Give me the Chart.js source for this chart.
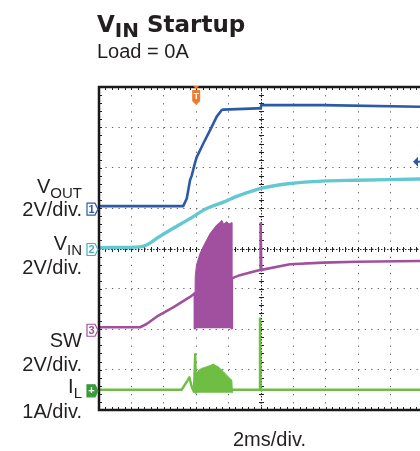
<!DOCTYPE html>
<html>
<head>
<meta charset="utf-8">
<title>VIN Startup</title>
<script src="https://cdn.jsdelivr.net/npm/chart.js@4.4.1/dist/chart.umd.min.js"></script>
<style>
  html, body { margin: 0; padding: 0; background: #fff; }
  #wrap { position: relative; width: 420px; height: 451px; overflow: hidden; font-family: "Liberation Sans", Arial, sans-serif; color: #231f20; }
  #scope { position: absolute; left: 0; top: 0; }
  .title { position: absolute; left: 97px; top: 13px; font: bold 23px/23px "DejaVu Sans", sans-serif; white-space: nowrap; }
  .title sub { font-size: 20px; vertical-align: -5px; line-height: 0; }
  .load { position: absolute; left: 97px; top: 41px; font-size: 20px; line-height: 20px; }
  .lbl { position: absolute; right: 338px; font-size: 20px; line-height: 20px; text-align: right; white-space: nowrap; }
  .lbl sub { font-size: 15px; vertical-align: -5px; line-height: 0; }
  .xlbl { position: absolute; left: 233px; top: 429px; font-size: 20px; line-height: 20px; }
</style>
</head>
<body>
<div id="wrap">
  <canvas id="scope" width="420" height="451"></canvas>
  <div class="title">V<sub>IN</sub> Startup</div>
  <div class="load">Load = 0A</div>
  <div class="lbl" style="top:176px">V<sub>OUT</sub></div>
  <div class="lbl" style="top:199px">2V/div.</div>
  <div class="lbl" style="top:233px">V<sub>IN</sub></div>
  <div class="lbl" style="top:257px">2V/div.</div>
  <div class="lbl" style="top:330px">SW</div>
  <div class="lbl" style="top:354px">2V/div.</div>
  <div class="lbl" style="top:376px">I<sub>L</sub></div>
  <div class="lbl" style="top:401px">1A/div.</div>
  <div class="xlbl">2ms/div.</div>
</div>
<script>
// scope settings: 2 ms/div, 10 x 8 divisions, ground markers in divisions from the bottom
const msPerDiv = 2;
const voutOffset = 5, vinOffset = 4, swOffset = 2, ilOffset = 0.5;
const voutPerDiv = 2, vinPerDiv = 2, swPerDiv = 2, ilPerDiv = 1;
const trigTime = 6;     // ms
const trigLevel = 2.3;  // V on VOUT

// VOUT (V)
const voutT = [0, 5.2, 5.42, 5.62, 5.72, 5.92, 6.02, 6.44, 6.86, 7.26, 7.58, 7.68, 9.74, 9.98, 10.02, 13.82, 19.82];
const voutV = [0.1, 0.1, 0.48, 1.38, 1.6, 2.22, 2.5, 3.2, 3.86, 4.52, 4.86, 4.88, 4.94, 4.94, 5.1, 5.1, 5.02];

// VIN (V)
const vinT = [0, 2.54, 3.0, 3.56, 4.58, 5.62, 6.64, 7.68, 8.7, 10.0, 11.8, 13.8, 15.9, 19.82];
const vinV = [0.04, 0.08, 0.2, 0.5, 1.0, 1.48, 1.98, 2.3, 2.64, 2.98, 3.22, 3.34, 3.38, 3.44];

// SW node (V): slow trace, and the envelope of the switching burst
const swT = [0, 2.54, 2.94, 3.56, 4.58, 5.62, 5.92, 5.92, null, 8.2, 8.2, 8.7, 9.74, 9.96, 9.98, 10.02, 11.8, 13.84, 15.9, 19.82];
const swV = [0.1, 0.1, 0.26, 0.62, 1.08, 1.6, 1.78, 0.05, null, 0.05, 2.52, 2.68, 2.9, 2.94, 5.24, 2.94, 3.22, 3.3, 3.34, 3.38];
const swBurstT = [5.92, 5.94, 6.02, 6.24, 6.54, 6.86, 7.26, 7.48, 7.58, 7.7, 7.88, 8.04, 8.2, 8.2];
const swBurstV = [0.05, 2.6, 3.18, 3.76, 4.26, 4.74, 5.16, 5.3, 5.4, 5.2, 5.32, 5.22, 5.28, 0.05];
const swLow = 0.05;

// inductor current IL (A): slow trace, and the envelope of the ripple burst
const ilT = [0, 5.1, 5.42, 5.58, 5.72, 5.86, 5.94, 6.0, null, 8.24, 9.92, 9.94, 9.98, 19.82];
const ilV = [0, 0, 0.2, 0.31, 0.08, -0.05, 0.88, -0.07, null, 0, 0, 1.77, 0, 0];
const ilBurstT = [6.0, 6.02, 6.2, 6.34, 6.5, 6.64, 6.86, 7.06, 7.2, 7.36, 7.68, 7.98, 8.2, 8.24];
const ilBurstV = [-0.07, 0.41, 0.5, 0.53, 0.55, 0.57, 0.6, 0.64, 0.6, 0.57, 0.45, 0.32, 0.24, -0.07];
const ilLow = -0.07;

const colVout = '#2c5aa8', colVin = '#62c8d2', colSw = '#a0509f', colIl = '#6fbe44';

function toDiv(t, v, off, perDiv) {
    return t.map((ti, i) => ({ x: ti, y: v[i] === null ? null : off + v[i] / perDiv }));
}

// oscilloscope graticule: centre cross with minor ticks, frame with minor ticks
const graticule = {
    id: 'graticule',
    beforeDatasetsDraw(chart) {
        const { ctx, chartArea: a, scales: { x, y } } = chart;
        const cx = Math.round(x.getPixelForValue(5 * msPerDiv)) + 0.5;
        const cy = Math.round(y.getPixelForValue(4)) + 0.5;
        ctx.save();
        ctx.strokeStyle = '#222';
        ctx.lineWidth = 1;
        ctx.setLineDash([1.5, 1.5]);
        ctx.beginPath();
        ctx.moveTo(a.left, cy); ctx.lineTo(a.right, cy);
        ctx.moveTo(cx, a.top); ctx.lineTo(cx, a.bottom);
        ctx.stroke();
        ctx.setLineDash([]);
        ctx.beginPath();
        for (let t = 0; t <= x.max; t += msPerDiv / 5) {
            const px = Math.round(x.getPixelForValue(t)) + 0.5;
            ctx.moveTo(px, cy - 2.5); ctx.lineTo(px, cy + 2.5);
            ctx.moveTo(px, a.bottom); ctx.lineTo(px, a.bottom - 3);
            ctx.moveTo(px, a.top); ctx.lineTo(px, a.top + 3);
        }
        for (let d = 0; d <= 8; d += 0.2) {
            const py = Math.round(y.getPixelForValue(d)) + 0.5;
            ctx.moveTo(cx - 2.5, py); ctx.lineTo(cx + 2.5, py);
            ctx.moveTo(a.left, py); ctx.lineTo(a.left + 3, py);
        }
        ctx.stroke();
        ctx.restore();
    },
    afterDatasetsDraw(chart) {
        const { ctx, chartArea: a, scales: { x, y } } = chart;
        ctx.save();
        // frame (right side is off the picture)
        ctx.strokeStyle = '#1a1a1a';
        ctx.lineWidth = 2.5;
        ctx.beginPath();
        ctx.moveTo(a.right + 2, a.top);
        ctx.lineTo(a.left, a.top);
        ctx.lineTo(a.left, a.bottom);
        ctx.lineTo(a.right + 2, a.bottom);
        ctx.stroke();

        // channel ground markers
        const marks = [
            [voutOffset, '1', colVout, false],
            [vinOffset, '2', '#3fb5bf', false],
            [swOffset, '3', colSw, false],
            [ilOffset, '4', '#3a9b3c', true]
        ];
        marks.forEach(([off, txt, col, filled]) => {
            const py = y.getPixelForValue(off) + 1;
            const r = a.left - 1, l = r - 11;
            ctx.beginPath();
            ctx.moveTo(l, py - 6); ctx.lineTo(r - 3, py - 6); ctx.lineTo(r, py);
            ctx.lineTo(r - 3, py + 6); ctx.lineTo(l, py + 6); ctx.closePath();
            ctx.fillStyle = filled ? col : '#fff';
            ctx.fill();
            ctx.lineWidth = 1.2;
            ctx.strokeStyle = col;
            ctx.stroke();
            ctx.fillStyle = filled ? '#fff' : col;
            ctx.font = 'bold 11px "Liberation Sans", sans-serif';
            ctx.textAlign = 'center';
            ctx.textBaseline = 'middle';
            ctx.fillText(filled ? '+' : txt, l + 4.5, py + 0.5);
        });

        // trigger position marker
        const tx = x.getPixelForValue(trigTime);
        ctx.fillStyle = '#ee7a2e';
        ctx.beginPath();
        ctx.moveTo(tx - 3, a.top - 1); ctx.lineTo(tx + 3, a.top - 1); ctx.lineTo(tx, a.top + 2); ctx.closePath();
        ctx.fill();
        ctx.beginPath();
        ctx.moveTo(tx - 4, a.top + 3); ctx.lineTo(tx + 4, a.top + 3); ctx.lineTo(tx + 4, a.top + 14);
        ctx.lineTo(tx, a.top + 18); ctx.lineTo(tx - 4, a.top + 14); ctx.closePath();
        ctx.fill();
        ctx.fillStyle = '#fff';
        ctx.font = 'bold 9px "Liberation Sans", sans-serif';
        ctx.textAlign = 'center';
        ctx.textBaseline = 'middle';
        ctx.fillText('T', tx, a.top + 9.5);

        // trigger level marker at the right edge
        const ly = y.getPixelForValue(voutOffset + trigLevel / voutPerDiv);
        ctx.fillStyle = colVout;
        ctx.beginPath();
        ctx.moveTo(a.right - 7, ly); ctx.lineTo(a.right - 2, ly - 5); ctx.lineTo(a.right - 2, ly + 5); ctx.closePath();
        ctx.fill();
        ctx.fillRect(a.right - 4, ly - 1, 4, 2);
        ctx.restore();
    }
};

const ctx = document.getElementById('scope').getContext('2d');

new Chart(ctx, {
    type: 'line',
    data: {
        datasets: [{
            label: 'VOUT',
            data: toDiv(voutT, voutV, voutOffset, voutPerDiv),
            borderColor: colVout,
            borderWidth: 2.6
        }, {
            label: 'VIN',
            data: toDiv(vinT, vinV, vinOffset, vinPerDiv),
            borderColor: colVin,
            borderWidth: 3.4,
            tension: 0.3
        }, {
            label: 'SW',
            data: toDiv(swT, swV, swOffset, swPerDiv),
            borderColor: colSw,
            borderWidth: 2.6,
            spanGaps: false
        }, {
            label: 'SW burst',
            data: toDiv(swBurstT, swBurstV, swOffset, swPerDiv),
            borderColor: colSw,
            backgroundColor: colSw,
            borderWidth: 1,
            fill: { value: swOffset + swLow / swPerDiv }
        }, {
            label: 'IL',
            data: toDiv(ilT, ilV, ilOffset, ilPerDiv),
            borderColor: colIl,
            borderWidth: 2.4,
            spanGaps: false
        }, {
            label: 'IL burst',
            data: toDiv(ilBurstT, ilBurstV, ilOffset, ilPerDiv),
            borderColor: colIl,
            backgroundColor: colIl,
            borderWidth: 1,
            fill: { value: ilOffset + ilLow / ilPerDiv }
        }]
    },
    options: {
        responsive: false,
        animation: false,
        events: [],
        layout: { padding: { left: 99, top: 87, right: 0, bottom: 41 } },
        elements: { point: { radius: 0 }, line: { borderCapStyle: 'round', borderJoinStyle: 'round' } },
        plugins: { legend: { display: false }, tooltip: { enabled: false } },
        scales: {
            x: {
                type: 'linear',
                min: 0,
                max: 19.82,
                ticks: { display: false, stepSize: msPerDiv, includeBounds: false },
                grid: { color: '#666', lineWidth: 1, drawTicks: false },
                border: { display: false, dash: [1.3, 6.78] }
            },
            y: {
                min: 0,
                max: 8,
                ticks: { display: false, stepSize: 1 },
                grid: { color: '#666', lineWidth: 1, drawTicks: false },
                border: { display: false, dash: [1.3, 5.18] }
            }
        }
    },
    plugins: [graticule]
});
</script>
</body>
</html>
